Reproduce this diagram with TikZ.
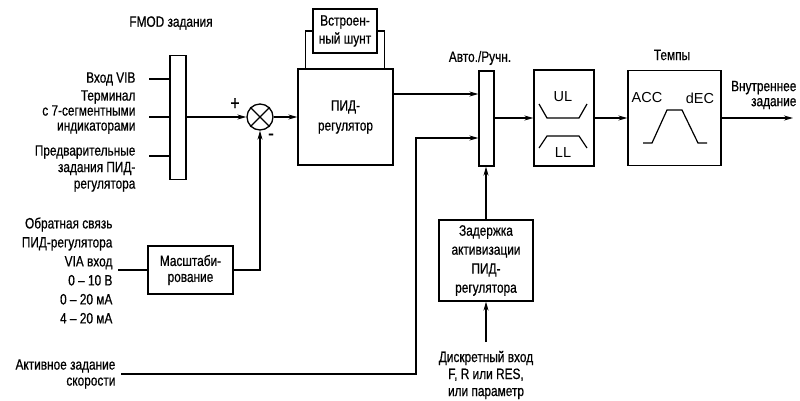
\documentclass[tikz,border=0pt]{standalone}
\usepackage{fontspec}
\setmainfont{Liberation Sans}[FakeStretch=0.79,FakeBold=0.6]
\newfontfamily\widefont{Liberation Sans}
\usetikzlibrary{arrows.meta}
\begin{document}
\begin{tikzpicture}[x=1pt,y=-1pt, line width=1.2pt,
  box/.style={draw, inner sep=0pt, line width=1.3pt, align=center},
  txt/.style={inner sep=0pt},
  arr/.style={-{Stealth[length=9pt,width=5pt]}},
  fs/.style={font=\fontsize{15}{#1}\selectfont},
  wf/.style={inner sep=0pt, font=\widefont\fontsize{14.5}{16}\selectfont}
]
\useasboundingbox (0,0) rectangle (800,400);

% blocks
\node[box, minimum width=16pt, minimum height=124pt] (fmod) at (178,117.5) {};
\node[box, circle, minimum size=26pt] (sum) at (260,117) {};
\draw (sum.north west) -- (sum.south east) (sum.north east) -- (sum.south west);
\node[box, minimum width=95pt, minimum height=96pt, fs=20] (pid) at (345.5,117) {ПИД-\\регулятор};
\node[box, minimum width=64pt, minimum height=44pt, fs=18] (shunt) at (345,31) {Встроен-\\ный шунт};
\node[box, minimum width=15pt, minimum height=95pt] (auto) at (486.5,118.5) {};
\node[box, minimum width=60pt, minimum height=96pt] (lim) at (564,118) {};
\node[box, minimum width=93pt, minimum height=95pt] (ramp) at (674.5,118) {};
\node[box, minimum width=85pt, minimum height=48pt, fs=16] (scale) at (190.5,270) {Масштаби-\\рование};
\node[box, minimum width=94pt, minimum height=81pt, fs=19] (delay) at (486,260.5) {Задержка\\активизации\\ПИД-\\регулятора};

% labels
\node[txt, fs=16] (lfmod) at (171,23) {FMOD задания};
\node[txt, fs=16, anchor=east] (lvib) at (136,79) {Вход VIB};
\node[txt, fs=15, anchor=east, align=right] (lterm) at (136,112) {Терминал\\с 7-сегментными\\индикаторами};
\node[txt, fs=16.5, anchor=east, align=right] (lpre) at (136,168.5) {Предварительные\\задания ПИД-\\регулятора};
\node[txt, font=\fontsize{20}{20}\selectfont] (lplus) at (235,104) {+};
\node[txt, font=\fontsize{22}{22}\selectfont] (lminus) at (271,137) {-};
\node[txt, fs=16] (lauto) at (480,58) {Авто./Ручн.};
\node[txt, fs=16] (ltemp) at (672,55) {Темпы};
\node[txt, fs=15, anchor=east, align=right] (lout) at (797,95) {Внутреннее\\задание};
\node[txt, fs=19, anchor=east, align=right] (lfb) at (113,270.5) {Обратная связь\\ПИД-регулятора\\VIA вход\\0 – 10 В\\0 – 20 мА\\4 – 20 мА};
\node[txt, fs=16, anchor=east, align=right] (lact) at (116,374) {Активное задание\\скорости};
\node[txt, fs=17, align=center] (ldin) at (486,375) {Дискретный вход\\F, R или RES,\\или параметр};

% limiter drawing
\node[wf] (ul) at (563,97) {UL};
\node[wf] (ll) at (563,153) {LL};
\draw (539,104) -- (547,118) -- (579,118) -- (587,104);
\draw (539,148) -- (547,136) -- (579,136) -- (587,148);

% ramp drawing
\node[wf] (acc) at (647,98) {ACC};
\node[wf] (dec) at (700,98) {dEC};
\draw (643,143) -- (652,143) -- (667,110) -- (682,110) -- (698,143) -- (707,143);

% inputs to FMOD bar
\coordinate (i1) at (149,79);
\coordinate (i2) at (149,117);
\coordinate (i3) at (149,156);
\draw (i1) -- (i1 -| fmod.west);
\draw (i2) -- (i2 -| fmod.west);
\draw (i3) -- (i3 -| fmod.west);

% main path
\draw[arr] (fmod.east |- sum.west) -- (sum.west);
\draw[arr] (sum.east) -- (sum.east -| pid.west);
\draw ([xshift=8pt]pid.north west) |- (shunt.west);
\draw ([xshift=-9pt]pid.north east) |- (shunt.east);
\draw[arr] ([yshift=23pt]pid.east) coordinate (po) -- (po -| auto.west);
\coordinate (a2) at (auto.west |- 0,138);
\coordinate (bend) at (416,138);
\coordinate (act) at (121,374);
\draw[arr] (act) -| (bend) -- (a2);
\draw[arr] (auto.east |- lim.west) -- (lim.west);
\draw[arr] (lim.east) -- (ramp.west);
\coordinate (out) at (793,118);
\draw[arr] (ramp.east) -- (out);
\draw[arr] (delay.north) -- (delay.north |- auto.south);
\coordinate (din) at (486,342);
\draw[arr] (din) -- (delay.south);

% feedback
\coordinate (fb) at (118,270);
\draw (fb) -- (scale.west);
\draw[arr] (scale.east) -| (sum.south);
\end{tikzpicture}
\end{document}
